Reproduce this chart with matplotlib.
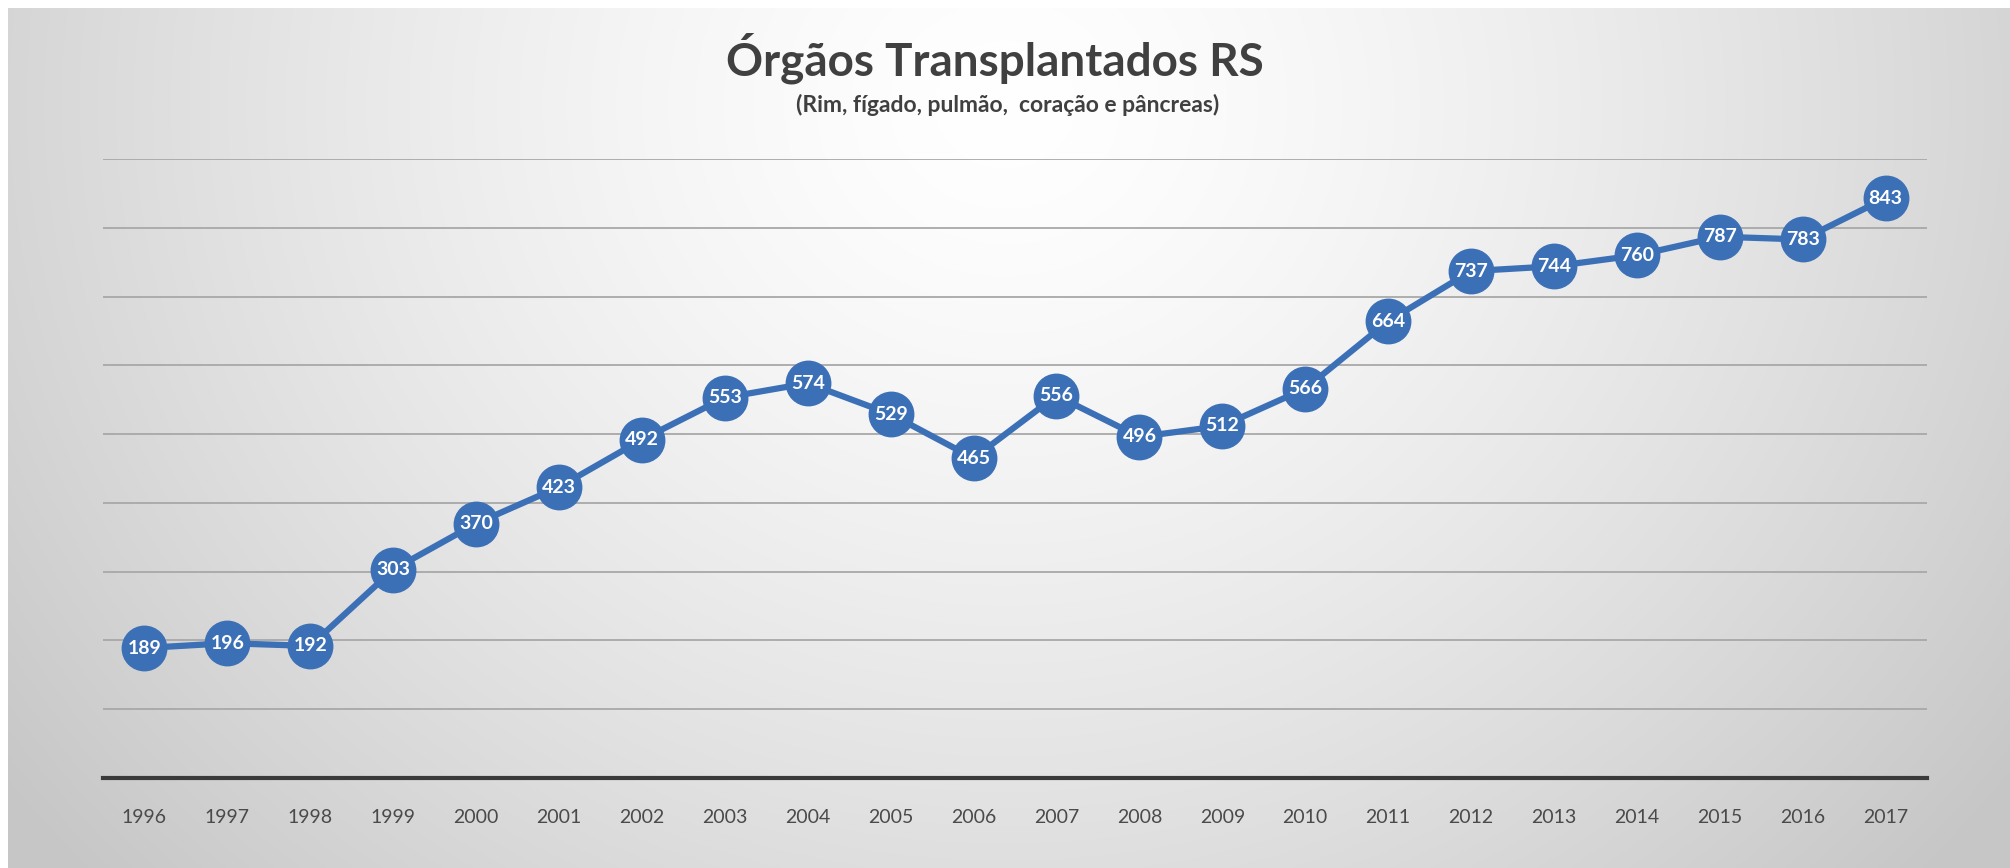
import numpy as np
import matplotlib
matplotlib.use("Agg")
import matplotlib.pyplot as plt

years = [1996, 1997, 1998, 1999, 2000, 2001, 2002, 2003, 2004, 2005, 2006,
         2007, 2008, 2009, 2010, 2011, 2012, 2013, 2014, 2015, 2016, 2017]
organs = [189, 196, 192, 303, 370, 423, 492, 553, 574, 529, 465,
          556, 496, 512, 566, 664, 737, 744, 760, 787, 783, 843]
title = "Órgãos Transplantados RS"
subtitle = "(Rim, fígado, pulmão,  coração e pâncreas)"

W, H, DPI = 2010, 868, 100
BLUE = "#3c70b6"

fig = plt.figure(figsize=(W / DPI, H / DPI), dpi=DPI)

# radial grey background, white strip on top/left like the screenshot
yy, xx = np.mgrid[0:H, 0:W]
r = np.sqrt(((xx - W * 0.5) / (W * 0.62)) ** 2 + ((yy - H * 0.12) / (H * 1.3)) ** 2)
r = np.clip(r, 0, 1)
shade = 1.0 - 0.22 * r ** 1.4
bg = np.dstack([shade, shade, shade])
bg[:8, :, :] = 1.0
bg[:, :8, :] = 1.0
fig.figimage(bg, xo=0, yo=0, origin="upper", zorder=-10)

ax = fig.add_axes([103 / W, 90 / H, 1824 / W, 619 / H])
ax.set_zorder(5)
ax.patch.set_alpha(0)
x = np.arange(len(years))
ax.plot(x, organs, color=BLUE, lw=4.5, marker="o", ms=32,
        markerfacecolor=BLUE, markeredgecolor=BLUE, zorder=3, solid_capstyle="round")
for xi, v in zip(x, organs):
    ax.text(xi, v, str(v), ha="center", va="center", color="white",
            fontsize=14, fontweight="bold", family="Lato", zorder=4)

ax.set_xlim(-0.5, len(years) - 0.5)
ax.set_ylim(0, 900)
ax.set_yticks(range(100, 1000, 100))
ax.yaxis.grid(True, color="#a8a8a8", lw=1.3)
ax.set_axisbelow(True)
for s in ["top", "right", "left"]:
    ax.spines[s].set_visible(False)
ax.spines["bottom"].set_color("#3a3a3a")
ax.spines["bottom"].set_linewidth(3)
ax.set_yticklabels([])
ax.tick_params(axis="y", length=0)
ax.set_xticks(x)
ax.set_xticklabels([str(y) for y in years], family="Lato", fontsize=14, color="#4a4a4a")
ax.tick_params(axis="x", length=0, pad=22)

fig.text(995 / W, 1 - 58 / H, title, ha="center", va="center", family="Lato",
         fontweight="bold", fontsize=33, color="#404040")
fig.text(1008 / W, 1 - 105 / H, subtitle, ha="center", va="center", family="Lato",
         fontweight="bold", fontsize=16.5, color="#404040")

fig.savefig("out.png", dpi=DPI)
